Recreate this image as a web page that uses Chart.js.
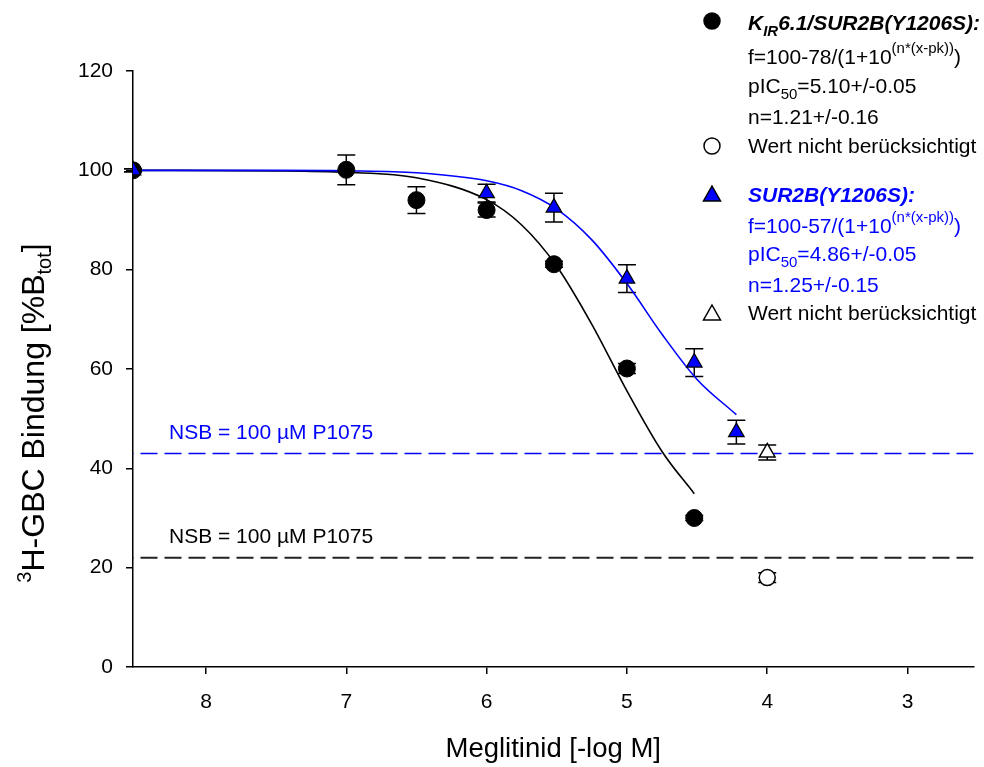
<!DOCTYPE html>
<html>
<head>
<meta charset="utf-8">
<script src="https://cdn.jsdelivr.net/npm/chart.js@4.4.0/dist/chart.umd.min.js"></script>
<style>
  html, body { margin: 0; padding: 0; background: #fff; overflow: hidden; }
  #wrap { width: 984px; height: 767px; }
  canvas { display: block; }
</style>
</head>
<body>
<div id="wrap"><canvas id="chart" width="984" height="767"></canvas></div>
<script>
// measured points, x = -log M
const xBlack = [8.52, 7, 6.5, 6, 5.52, 5, 4.52];
const yBlack = [100, 100.1, 94.0, 92.0, 81.1, 60.1, 30.0];
const errBlack = [0.3, 3.0, 2.7, 1.4, 0.6, 1.0, 0.5];
const xBlackOut = [4];
const yBlackOut = [18.0];
const errBlackOut = [1.0];

const xBlue = [8.52, 6, 5.52, 5, 4.52, 4.22];
const yBlue = [100, 95.4, 92.5, 78.2, 61.3, 47.3];
const errBlue = [0.3, 1.8, 2.9, 2.8, 2.8, 2.4];
const xBlueOut = [4];
const yBlueOut = [43.2];
const errBlueOut = [1.5];

// fitted curves
const curveXBlack = [8.52, 7.5, 7, 6.5, 6, 5.75, 5.5, 5.25, 5, 4.75, 4.52];
const curveYBlack = [100, 99.9, 99.6, 98.5, 94.1, 89.0, 80.7, 69.0, 55.6, 43.4, 34.9];
const curveXBlue = [8.52, 7.5, 7, 6.5, 6, 5.75, 5.5, 5.25, 5, 4.75, 4.5, 4.22];
const curveYBlue = [100, 100, 99.9, 99.5, 97.9, 95.9, 92.2, 86.0, 77.2, 67.0, 57.9, 50.8];

// non-specific binding levels
const nsbBlue = 43;
const nsbBlack = 22;

const xTicks = [8, 7, 6, 5, 4, 3];
const yTicks = [0, 20, 40, 60, 80, 100, 120];
const xRange = [2.53, 8.52];

const BLUE = '#0000ff';
const FONT = '"Liberation Sans", Arial, sans-serif';

const pts = (xs, ys) => xs.map((x, i) => ({ x: x, y: ys[i] }));

const errorBars = {
    id: 'errorBars',
    beforeDatasetsDraw(chart) {
        const { ctx, scales: { x, y } } = chart;
        const sets = [[xBlack, yBlack, errBlack], [xBlackOut, yBlackOut, errBlackOut],
                      [xBlue, yBlue, errBlue], [xBlueOut, yBlueOut, errBlueOut]];
        ctx.save();
        ctx.strokeStyle = '#000';
        ctx.lineWidth = 1.5;
        sets.forEach(([xs, ys, es]) => {
            xs.forEach((xv, i) => {
                const px = x.getPixelForValue(xv);
                const top = y.getPixelForValue(ys[i] + es[i]);
                const bot = y.getPixelForValue(ys[i] - es[i]);
                ctx.beginPath();
                ctx.moveTo(px, top); ctx.lineTo(px, bot);
                ctx.moveTo(px - 9, top); ctx.lineTo(px + 9, top);
                ctx.moveTo(px - 9, bot); ctx.lineTo(px + 9, bot);
                ctx.stroke();
            });
        });
        ctx.restore();
    }
};

// draws text pieces in a row: [text, size, dy, style]
function runs(ctx, x, y, parts, color) {
    ctx.fillStyle = color;
    ctx.textBaseline = 'alphabetic';
    ctx.textAlign = 'left';
    let cx = x;
    parts.forEach(([t, size, dy, style]) => {
        ctx.font = (style || '') + ' ' + size + 'px ' + FONT;
        ctx.fillText(t, cx, y + dy);
        cx += ctx.measureText(t).width;
    });
    return cx - x;
}

function marker(ctx, kind, x, y, fill) {
    ctx.save();
    ctx.lineWidth = 1.5;
    ctx.strokeStyle = '#000';
    ctx.fillStyle = fill;
    ctx.beginPath();
    if (kind === 'circle') {
        ctx.arc(x, y, 8, 0, Math.PI * 2);
    } else {
        ctx.moveTo(x, y - 9);
        ctx.lineTo(x + 8.5, y + 6);
        ctx.lineTo(x - 8.5, y + 6);
        ctx.closePath();
    }
    ctx.fill();
    ctx.stroke();
    ctx.restore();
}

const annotations = {
    id: 'annotations',
    afterDraw(chart) {
        const { ctx, chartArea } = chart;
        ctx.save();

        // NSB labels
        ctx.font = '21px ' + FONT;
        ctx.textBaseline = 'alphabetic';
        ctx.fillStyle = BLUE;
        ctx.fillText('NSB = 100 µM P1075', 169, 439);
        ctx.fillStyle = '#000';
        ctx.fillText('NSB = 100 µM P1075', 169, 543);

        // axis titles
        ctx.font = '27.5px ' + FONT;
        ctx.textAlign = 'center';
        ctx.fillText('Meglitinid [-log M]', (chartArea.left + chartArea.right) / 2, 757);

        ctx.save();
        ctx.translate(44, 0);
        ctx.rotate(-Math.PI / 2);
        const yParts = [['3', 20, -13], ['H-GBC Bindung [%B', 32, 0], ['tot', 20, 7], [']', 32, 0]];
        let w = 0;
        yParts.forEach(([t, s]) => { ctx.font = s + 'px ' + FONT; w += ctx.measureText(t).width; });
        runs(ctx, -413 - w / 2, 0, yParts, '#000');
        ctx.restore();

        // legend
        const lx = 748;
        marker(ctx, 'circle', 712, 21, '#000');
        runs(ctx, lx, 30, [['K', 21, 0, 'italic bold'], ['IR', 15, 6, 'italic bold'],
                           ['6.1/SUR2B(Y1206S):', 21, 0, 'italic bold']], '#000');
        runs(ctx, lx, 64, [['f=100-78/(1+10', 21, 0], ['(n*(x-pk))', 15, -11], [')', 21, 0]], '#000');
        runs(ctx, lx, 93, [['pIC', 21, 0], ['50', 15, 6], ['=5.10+/-0.05', 21, 0]], '#000');
        runs(ctx, lx, 124, [['n=1.21+/-0.16', 21, 0]], '#000');
        marker(ctx, 'circle', 712, 146, '#fff');
        runs(ctx, lx, 153, [['Wert nicht berücksichtigt', 21, 0]], '#000');

        marker(ctx, 'tri', 712, 195, BLUE);
        runs(ctx, lx, 202, [['SUR2B(Y1206S):', 21, 0, 'italic bold']], BLUE);
        runs(ctx, lx, 233, [['f=100-57/(1+10', 21, 0], ['(n*(x-pk))', 15, -11], [')', 21, 0]], BLUE);
        runs(ctx, lx, 261, [['pIC', 21, 0], ['50', 15, 6], ['=4.86+/-0.05', 21, 0]], BLUE);
        runs(ctx, lx, 292, [['n=1.25+/-0.15', 21, 0]], BLUE);
        marker(ctx, 'tri', 712, 314, '#fff');
        runs(ctx, lx, 320, [['Wert nicht berücksichtigt', 21, 0]], '#000');

        ctx.restore();
    }
};

new Chart(document.getElementById('chart'), {
    type: 'scatter',
    data: {
        datasets: [
            { data: pts(xBlueOut, yBlueOut), pointStyle: 'triangle', pointRadius: 9,
              backgroundColor: '#fff', borderColor: '#000', borderWidth: 1.5 },
            { data: pts(xBlue, yBlue), pointStyle: 'triangle', pointRadius: 9,
              backgroundColor: BLUE, borderColor: '#000', borderWidth: 1.2 },
            { data: pts(xBlackOut, yBlackOut), pointStyle: 'circle', pointRadius: 8,
              backgroundColor: '#fff', borderColor: '#000', borderWidth: 1.5 },
            { data: pts(xBlack, yBlack), pointStyle: 'circle', pointRadius: 8.5,
              backgroundColor: '#000', borderColor: '#000', borderWidth: 1 },
            { data: pts(curveXBlue, curveYBlue), showLine: true, pointRadius: 0,
              borderColor: BLUE, borderWidth: 1.6, cubicInterpolationMode: 'monotone' },
            { data: pts(curveXBlack, curveYBlack), showLine: true, pointRadius: 0,
              borderColor: '#000', borderWidth: 1.6, cubicInterpolationMode: 'monotone' },
            { data: pts(xRange, [nsbBlue, nsbBlue]), showLine: true, pointRadius: 0,
              borderColor: BLUE, borderWidth: 1.6, borderDash: [17, 7] },
            { data: pts(xRange, [nsbBlack, nsbBlack]), showLine: true, pointRadius: 0,
              borderColor: '#222', borderWidth: 1.8, borderDash: [17, 7] }
        ]
    },
    options: {
        responsive: false,
        animation: false,
        events: [],
        layout: { padding: { top: 71, right: 4.5, left: 0, bottom: 0 } },
        plugins: { legend: { display: false }, tooltip: { enabled: false } },
        scales: {
            x: {
                type: 'linear',
                reverse: true,
                min: xRange[0],
                max: xRange[1],
                afterBuildTicks: s => { s.ticks = xTicks.map(v => ({ value: v })); },
                afterFit: s => { s.height = 100; s.paddingLeft = 0; s.paddingRight = 0; },
                grid: { drawOnChartArea: false, tickLength: 7, color: '#000', lineWidth: 1.5 },
                border: { color: '#000', width: 1.5 },
                ticks: { color: '#000', font: { family: FONT, size: 21 }, padding: 16, maxRotation: 0 }
            },
            y: {
                min: 0,
                max: 120,
                afterBuildTicks: s => { s.ticks = yTicks.map(v => ({ value: v })); },
                afterFit: s => { s.width = 133; s.paddingTop = 0; s.paddingBottom = 0; },
                grid: { drawOnChartArea: false, tickLength: 7, color: '#000', lineWidth: 1.5 },
                border: { color: '#000', width: 1.5 },
                ticks: { color: '#000', font: { family: FONT, size: 21 }, padding: 13 }
            }
        }
    },
    plugins: [errorBars, annotations]
});
</script>
</body>
</html>
